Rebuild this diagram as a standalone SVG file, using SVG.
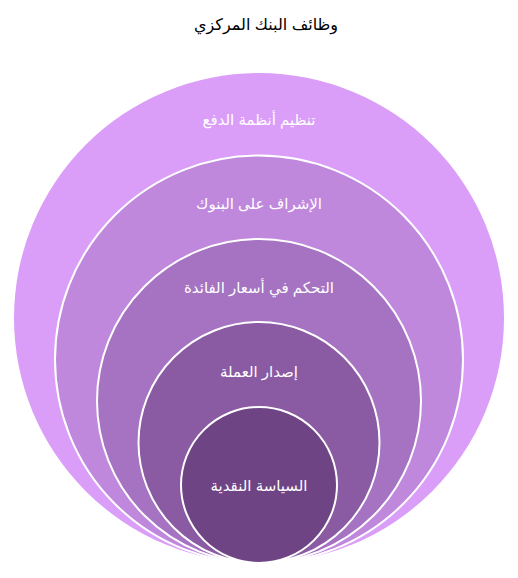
<svg xmlns="http://www.w3.org/2000/svg" width="518" height="578" viewBox="0 0 518 578">
<style>
.c{stroke:#ffffff;stroke-width:2}
.t{font-family:"Liberation Sans","DejaVu Sans",sans-serif;font-size:15px;fill:#ffffff;text-anchor:middle}
.title{font-family:"Liberation Sans","DejaVu Sans",sans-serif;font-size:16px;fill:#000000;text-anchor:middle}
</style>
<rect width="518" height="578" fill="#ffffff"/>
<text class="title" x="266" y="30" direction="rtl">وظائف البنك المركزي</text>
<g id="n1"><circle cx="259" cy="318" r="245" fill="#DA9EF8"/><text class="t" x="259" y="125" direction="rtl">تنظيم أنظمة الدفع</text></g>
<g id="n2"><circle class="c" cx="259" cy="359.5" r="204" fill="#C088DC"/><text class="t" x="259" y="209" direction="rtl">الإشراف على البنوك</text></g>
<g id="n3"><circle class="c" cx="259" cy="401" r="162" fill="#A672C2"/><text class="t" x="259" y="293" direction="rtl">التحكم في أسعار الفائدة</text></g>
<g id="n4"><circle class="c" cx="259" cy="442.5" r="120.5" fill="#8A5AA2"/><text class="t" x="259" y="377" direction="rtl">إصدار العملة</text></g>
<g id="n5"><circle class="c" cx="259" cy="485" r="78" fill="#6E4484"/><text class="t" x="259" y="491" direction="rtl">السياسة النقدية</text></g>
<g id="connectors"/>
</svg>
